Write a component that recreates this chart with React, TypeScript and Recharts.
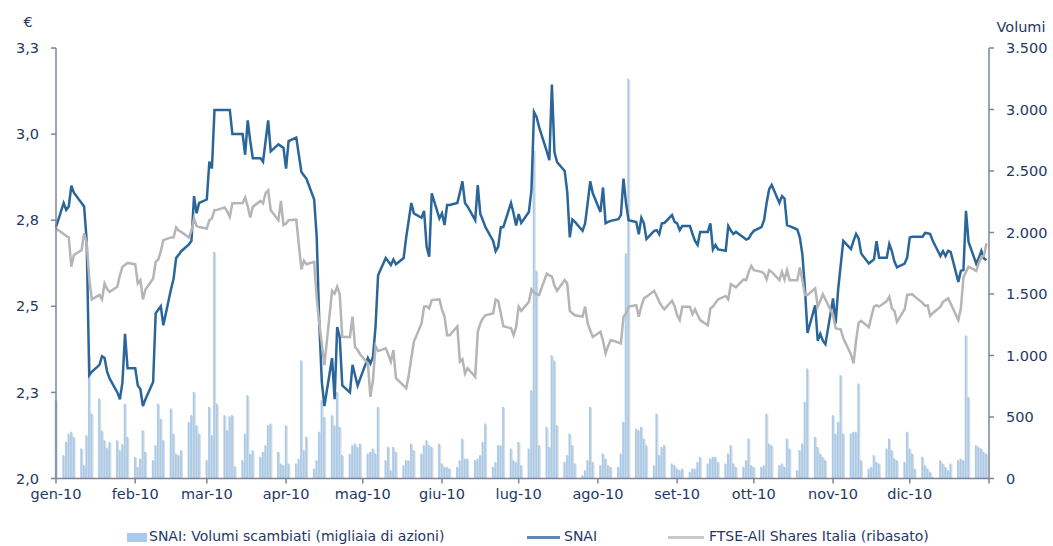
import React from 'react'
import { ComposedChart, Bar, Line, XAxis, YAxis } from 'recharts'

// x axis: month starts (day of year 2010) and their labels
const monthStarts = [0, 31, 59, 90, 120, 151, 181, 212, 243, 273, 304, 334, 365]
const monthLabels = ['gen-10', 'feb-10', 'mar-10', 'apr-10', 'mag-10', 'giu-10', 'lug-10', 'ago-10', 'set-10', 'ott-10', 'nov-10', 'dic-10', '']

const priceTicks = [2, 2.25, 2.5, 2.75, 3, 3.25]
const volumeTicks = [0, 500, 1000, 1500, 2000, 2500, 3000, 3500]

// trading days of 2010 as day-of-year (1 Jan 2010 was a Friday, weekends skipped)
const tradingDays: number[] = []
for (let d = 0; d < 365; d++) {
  if ((d + 4) % 7 < 5) tradingDays.push(d)
}

// SNAI price (€), one value per trading day
const snai = [
  2.73,
  2.80, 2.78, 2.79, 2.85, 2.83,
  2.80, 2.79, 2.69, 2.30, 2.31,
  2.33, 2.355, 2.35, 2.31, 2.29,
  2.25, 2.23, 2.28, 2.42, 2.32,
  2.32, 2.27, 2.26, 2.21, 2.23,
  2.28, 2.48, 2.49, 2.50, 2.445,
  2.55, 2.58, 2.64, 2.65, 2.66,
  2.68, 2.69, 2.82, 2.77, 2.80,
  2.81, 2.92, 2.90, 3.07, 3.07,
  3.07, 3.07, 3.07, 3.00, 3.00,
  3.00, 2.94, 3.04, 2.98, 2.93,
  2.93, 2.92, 2.98, 3.04, 2.95,
  2.97, 2.965, 2.96, 2.90, 2.98,
  2.99, 2.94, 2.89, 2.88, 2.87,
  2.81, 2.70, 2.45, 2.28, 2.21,
  2.35, 2.23, 2.44, 2.41, 2.27,
  2.25, 2.33, 2.30, 2.27, 2.29,
  2.35, 2.334, 2.353, 2.44, 2.59,
  2.64, 2.63, 2.62, 2.636, 2.622,
  2.64, 2.70, 2.75, 2.80, 2.77,
  2.757, 2.777, 2.673, 2.644, 2.828,
  2.755, 2.77, 2.736, 2.794, 2.794,
  2.80, 2.83, 2.863, 2.80, 2.79,
  2.75, 2.852, 2.768, 2.75, 2.73,
  2.69, 2.66, 2.673, 2.729, 2.73,
  2.80, 2.77, 2.735, 2.768, 2.742,
  2.774, 2.837, 3.064, 3.05, 3.02,
  2.95, 2.924, 3.144, 2.948, 2.919,
  2.893, 2.832, 2.70, 2.752, 2.745,
  2.719, 2.741, 2.80, 2.863, 2.828,
  2.774, 2.845, 2.741, 2.745, 2.748,
  2.753, 2.765, 2.871, 2.80, 2.75,
  2.745, 2.709, 2.757, 2.741, 2.695,
  2.719, 2.721, 2.709, 2.741, 2.742,
  2.765, 2.745, 2.741, 2.721, 2.733,
  2.733, 2.71, 2.69, 2.678, 2.716,
  2.716, 2.741, 2.665, 2.678, 2.665,
  2.661, 2.733, 2.72, 2.71, 2.716,
  2.70, 2.694, 2.697, 2.71, 2.719,
  2.73, 2.75, 2.80, 2.84, 2.852,
  2.80, 2.82, 2.813, 2.736, 2.733,
  2.723, 2.70, 2.65, 2.55, 2.423,
  2.503, 2.40, 2.42, 2.40, 2.39,
  2.523, 2.45, 2.55, 2.62, 2.69,
  2.666, 2.69, 2.71, 2.697, 2.653,
  2.624, 2.63, 2.636, 2.689, 2.641,
  2.641, 2.681, 2.66, 2.63, 2.613,
  2.624, 2.642, 2.70, 2.702, 2.702,
  2.702, 2.713, 2.712, 2.71, 2.69,
  2.646, 2.66, 2.646, 2.661, 2.658,
  2.571, 2.603, 2.605, 2.777, 2.687,
  2.624, 2.64, 2.661, 2.639, 2.634,
]

// FTSE All Shares Italia rebased to SNAI
const ftse = [
  2.726,
  2.71, 2.704, 2.70, 2.615, 2.649,
  2.663, 2.712, 2.687, 2.58, 2.52,
  2.533, 2.52, 2.566, 2.55, 2.542,
  2.557, 2.59, 2.615, 2.62, 2.626,
  2.622, 2.566, 2.576, 2.52, 2.549,
  2.581, 2.629, 2.636, 2.66, 2.692,
  2.70, 2.70, 2.729, 2.72, 2.716,
  2.70, 2.72, 2.755, 2.733, 2.73,
  2.726, 2.75, 2.755, 2.779, 2.78,
  2.787, 2.775, 2.76, 2.799, 2.799,
  2.80, 2.816, 2.79, 2.758, 2.789,
  2.806, 2.799, 2.829, 2.837, 2.779,
  2.75, 2.806, 2.736, 2.74, 2.75,
  2.752, 2.68, 2.607, 2.632, 2.622,
  2.629, 2.523, 2.45, 2.39, 2.329,
  2.545, 2.537, 2.557, 2.535, 2.411,
  2.411, 2.47, 2.382, 2.373, 2.36,
  2.334, 2.237, 2.286, 2.384, 2.37,
  2.378, 2.36, 2.339, 2.373, 2.291,
  2.27, 2.262, 2.30, 2.35, 2.397,
  2.45, 2.499, 2.50, 2.494, 2.518,
  2.52, 2.49, 2.47, 2.416, 2.416,
  2.442, 2.339, 2.346, 2.305, 2.32,
  2.295, 2.426, 2.45, 2.465, 2.474,
  2.479, 2.52, 2.516, 2.48, 2.442,
  2.436, 2.416, 2.44, 2.499, 2.487,
  2.513, 2.549, 2.54, 2.535, 2.533,
  2.595, 2.59, 2.586, 2.56, 2.545,
  2.576, 2.566, 2.487, 2.48, 2.474,
  2.47, 2.499, 2.45, 2.43, 2.411,
  2.426, 2.40, 2.363, 2.385, 2.402,
  2.395, 2.392, 2.47, 2.479, 2.499,
  2.503, 2.47, 2.50, 2.523, 2.528,
  2.545, 2.53, 2.513, 2.50, 2.491,
  2.516, 2.50, 2.474, 2.46, 2.499,
  2.499, 2.477, 2.491, 2.475, 2.46,
  2.445, 2.494, 2.499, 2.51, 2.52,
  2.53, 2.52, 2.564, 2.56, 2.555,
  2.578, 2.576, 2.60, 2.617, 2.605,
  2.60, 2.595, 2.578, 2.605, 2.60,
  2.576, 2.60, 2.578, 2.605, 2.576,
  2.576, 2.613, 2.576, 2.533, 2.533,
  2.552, 2.499, 2.515, 2.535, 2.52,
  2.474, 2.436, 2.434, 2.433, 2.407,
  2.36, 2.334, 2.40, 2.452, 2.458,
  2.439, 2.47, 2.499, 2.503, 2.499,
  2.515, 2.528, 2.494, 2.487, 2.455,
  2.491, 2.533, 2.534, 2.535, 2.528,
  2.51, 2.501, 2.503, 2.472, 2.48,
  2.499, 2.513, 2.518, 2.523, 2.508,
  2.46, 2.494, 2.584, 2.60, 2.615,
  2.603, 2.625, 2.644, 2.646, 2.683,
]

// SNAI traded volumes (thousands of shares)
const volumes = [
  636,
  190, 298, 365, 380, 338,
  244, 108, 352, 1000, 528,
  650, 390, 311, 250, 298,
  311, 230, 280, 609, 338,
  176, 95, 162, 393, 217,
  149, 271, 609, 487, 311,
  569, 365, 203, 190, 230,
  460, 515, 704, 433, 365,
  150, 582, 352, 1843, 609,
  515, 393, 506, 515, 100,
  150, 365, 677, 200, 230,
  176, 217, 271, 433, 447,
  217, 122, 108, 433, 122,
  122, 162, 961, 230, 338,
  81, 150, 380, 636, 500,
  515, 433, 704, 420, 190,
  200, 271, 284, 257, 284,
  203, 217, 244, 203, 582,
  149, 257, 68, 257, 217,
  108, 149, 149, 284, 230,
  203, 271, 311, 271, 257,
  284, 122, 95, 95, 81,
  95, 149, 325, 162, 162,
  149, 162, 190, 298, 447,
  95, 135, 271, 271, 582,
  244, 149, 135, 298, 108,
  244, 718, 2670, 1690, 271,
  420, 257, 1002, 961, 433,
  135, 190, 365, 271, 122,
  27, 68, 149, 582, 135,
  108, 203, 162, 108, 95,
  95, 203, 460, 1830, 3250,
  406, 393, 420, 325, 271,
  108, 528, 190, 257, 271,
  122, 108, 81, 68, 81,
  54, 81, 81, 135, 176,
  122, 162, 176, 176, 135,
  122, 203, 271, 122, 95,
  95, 149, 325, 108, 95,
  95, 108, 528, 284, 271,
  108, 122, 95, 325, 244,
  68, 230, 284, 623, 894,
  338, 257, 203, 176, 149,
  515, 365, 460, 840, 365,
  365, 380, 380, 772, 149,
  81, 95, 190, 135, 122,
  244, 325, 230, 162, 149,
  135, 380, 244, 203, 81,
  176, 108, 81, 54, 14,
  149, 122, 95, 68, 122,
  149, 162, 149, 1164, 663,
  271, 257, 244, 217, 203,
]

const data = tradingDays.map((day, i) => ({
  day,
  vol: volumes[i],
  snai: snai[i],
  ftse: ftse[i],
}))

const TEXT = '#1f3864'
const AXIS = '#7d8596'
const FONT = '"DejaVu Sans", Verdana, sans-serif'

const fmtPrice = (v: number) => v.toFixed(1).replace('.', ',')
const fmtVolume = (v: number) =>
  v >= 1000 ? `${Math.floor(v / 1000)}.${String(v % 1000).padStart(3, '0')}` : String(v)
const fmtMonth = (v: number) => monthLabels[monthStarts.indexOf(v)] ?? ''

// thin volume bar with a soft grey shadow on the right
const VolumeBar = (props: any) => {
  const { x, y, width, height } = props
  if (!height || height <= 0) return null
  return (
    <g>
      <rect x={x + 1.2} y={y + 1} width={width} height={height - 1} fill="#bcbcbc" opacity={0.5} />
      <rect x={x} y={y} width={width} height={height} fill="#a9cbeb" />
    </g>
  )
}

const tickStyle = { fill: TEXT, fontSize: 14.5, fontFamily: FONT }

export default function App() {
  return (
    <div style={{ position: 'absolute', left: 0, top: 0, width: 1053, height: 546, background: '#fff', fontFamily: FONT }}>
      <ComposedChart width={1053} height={546} data={data} margin={{ top: 48, right: 0, bottom: 0, left: 0 }}>
        <XAxis
          dataKey="day"
          type="number"
          domain={[0, 365]}
          ticks={monthStarts}
          tickFormatter={fmtMonth}
          interval={0}
          height={67.5}
          tick={tickStyle}
          tickSize={5}
          tickMargin={5}
          axisLine={{ stroke: AXIS, strokeWidth: 1.5 }}
          tickLine={{ stroke: AXIS, strokeWidth: 1.5 }}
        />
        <YAxis
          yAxisId="left"
          domain={[2, 3.25]}
          ticks={priceTicks}
          tickFormatter={fmtPrice}
          width={56}
          tick={tickStyle}
          tickSize={5}
          tickMargin={12}
          axisLine={{ stroke: AXIS, strokeWidth: 1.5 }}
          tickLine={{ stroke: AXIS, strokeWidth: 1.5 }}
          label={{ value: '€', position: 'top', offset: 21, fill: TEXT, fontSize: 14.5, fontFamily: FONT }}
        />
        <YAxis
          yAxisId="right"
          orientation="right"
          domain={[0, 3500]}
          ticks={volumeTicks}
          tickFormatter={fmtVolume}
          width={64}
          tick={tickStyle}
          tickSize={5}
          tickMargin={12}
          axisLine={{ stroke: AXIS, strokeWidth: 1.5 }}
          tickLine={{ stroke: AXIS, strokeWidth: 1.5 }}
          label={{ value: 'Volumi', position: 'top', offset: 16, fill: TEXT, fontSize: 14.5, fontFamily: FONT }}
        />
        <Bar yAxisId="right" dataKey="vol" barSize={1.8} shape={VolumeBar} isAnimationActive={false} />
        <Line yAxisId="left" dataKey="snai" type="linear" stroke="#2a6699" strokeWidth={2.5} dot={false} isAnimationActive={false} />
        <Line yAxisId="left" dataKey="ftse" type="linear" stroke="#b5b5b7" strokeWidth={2.5} dot={false} isAnimationActive={false} />
      </ComposedChart>

      <div style={{ position: 'absolute', top: 528, left: 0, width: 1053, height: 18, fontSize: 14, color: TEXT }}>
        <div style={{ position: 'absolute', left: 127, top: 5, width: 20, height: 9, background: '#a9cbeb' }} />
        <div style={{ position: 'absolute', left: 149, top: 0, whiteSpace: 'nowrap' }}>SNAI: Volumi scambiati (migliaia di azioni)</div>
        <div style={{ position: 'absolute', left: 527, top: 8, width: 33, height: 2.5, background: '#5d8ab4' }} />
        <div style={{ position: 'absolute', left: 564, top: 0, whiteSpace: 'nowrap' }}>SNAI</div>
        <div style={{ position: 'absolute', left: 668, top: 8, width: 36, height: 2.5, background: '#c8c8c8' }} />
        <div style={{ position: 'absolute', left: 709, top: 0, whiteSpace: 'nowrap' }}>FTSE-All Shares Italia (ribasato)</div>
      </div>
    </div>
  )
}
